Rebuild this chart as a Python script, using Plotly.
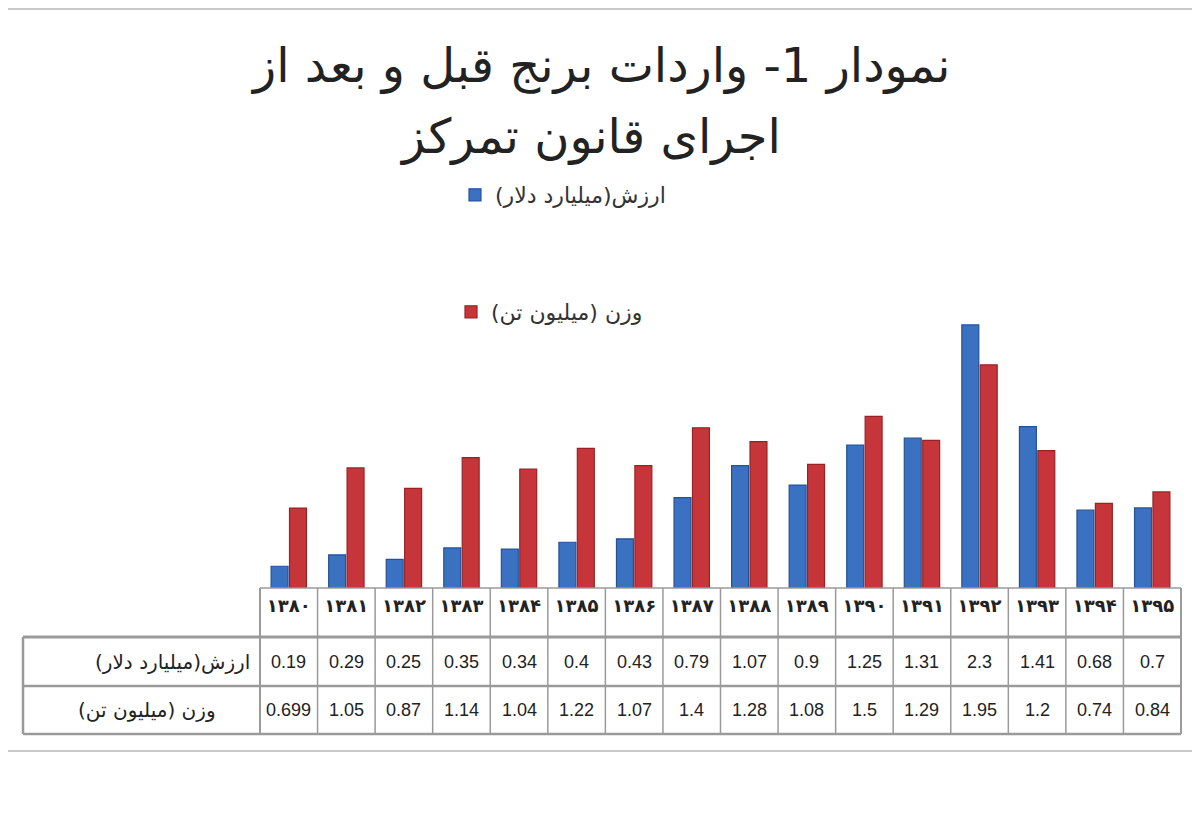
import plotly.graph_objects as go

# سال‌ها و داده‌های جدول
years = ["۱۳۸۰", "۱۳۸۱", "۱۳۸۲", "۱۳۸۳", "۱۳۸۴", "۱۳۸۵", "۱۳۸۶", "۱۳۸۷",
         "۱۳۸۸", "۱۳۸۹", "۱۳۹۰", "۱۳۹۱", "۱۳۹۲", "۱۳۹۳", "۱۳۹۴", "۱۳۹۵"]
value_bn_usd = [0.19, 0.29, 0.25, 0.35, 0.34, 0.4, 0.43, 0.79,
                1.07, 0.9, 1.25, 1.31, 2.3, 1.41, 0.68, 0.7]
weight_mn_ton = [0.699, 1.05, 0.87, 1.14, 1.04, 1.22, 1.07, 1.4,
                 1.28, 1.08, 1.5, 1.29, 1.95, 1.2, 0.74, 0.84]

name_value = "ارزش(میلیارد دلار)\u200f"
name_weight = "وزن (میلیون تن)\u200f"
title_1 = "نمودار 1- واردات برنج قبل و بعد از"
title_2 = "اجرای قانون تمرکز"

W, H = 1200, 836
OFF = 8  # حاشیه پیش‌فرض صفحه
ar_font = "DejaVu Sans"

# مختصات پیکسلی جدول
x_left, x_tab, x_right = 23, 260, 1181
y_axis, y_row1, y_row2, y_bot = 588, 637, 686, 734
y_top_px = 302


def px(x):
    return (x - OFF) / W


def py(y):
    return 1 - (y - OFF) / H


fig = go.Figure()
fig.add_trace(go.Bar(
    x=years, y=value_bn_usd, name=name_value, legend="legend",
    marker=dict(color="#3B71C1", line=dict(color="#23529A", width=1.2)),
))
fig.add_trace(go.Bar(
    x=years, y=weight_mn_ton, name=name_weight, legend="legend2",
    marker=dict(color="#C63539", line=dict(color="#9A2224", width=1.2)),
))

shapes = []
line_col = "#9a9a9a"


def hline(x0, x1, y, w=2, col=line_col):
    shapes.append(dict(type="line", xref="paper", yref="paper",
                       x0=px(x0), x1=px(x1), y0=py(y), y1=py(y),
                       line=dict(color=col, width=w)))


def vline(x, y0, y1, w=1.5):
    shapes.append(dict(type="line", xref="paper", yref="paper",
                       x0=px(x), x1=px(x), y0=py(y0), y1=py(y1),
                       line=dict(color=line_col, width=w)))


# قاب بیرونی
hline(0, 1210, 9, 2, "#c8c8c8")
hline(0, 1210, 751, 2, "#c8c8c8")

# خطوط جدول
hline(x_tab, x_right, y_axis, 1.5)
hline(x_left, x_right, y_row1, 3)
hline(x_left, x_right, y_row2, 2.5)
hline(x_left, x_right, y_bot, 2.5)
vline(x_left, y_row1, y_bot, 2.5)
col_w = (x_right - x_tab) / len(years)
for i in range(len(years) + 1):
    vline(x_tab + i * col_w, y_axis, y_bot, 2 if i in (0, len(years)) else 1.5)


def note(text, x, y, size, xanchor="center", xref="paper", bold=False, family=ar_font):
    return dict(text=text, x=x, y=y, xref=xref, yref="paper",
                xanchor=xanchor, yanchor="middle", showarrow=False,
                font=dict(family=family, size=size, color="#222",
                          weight="bold" if bold else "normal"))


annotations = [
    note(title_1, px(600), py(66), 48),
    note(title_2, px(590), py(136), 48),
    note(name_value, px(252), py((y_row1 + y_row2) / 2), 20, "right"),
    note(name_weight, px(218), py((y_row2 + y_bot) / 2), 20, "right"),
]
for yr, v, w in zip(years, value_bn_usd, weight_mn_ton):
    annotations.append(note(str(v), yr, py((y_row1 + y_row2) / 2), 18,
                            xref="x", family="Liberation Sans"))
    annotations.append(note(str(w), yr, py((y_row2 + y_bot) / 2), 18,
                            xref="x", family="Liberation Sans"))

fig.update_layout(
    width=W, height=H,
    margin=dict(l=0, r=0, t=0, b=0),
    paper_bgcolor="white", plot_bgcolor="white",
    barmode="group", bargap=0.36, bargroupgap=0.08,
    xaxis=dict(domain=[px(x_tab), px(x_right)], showgrid=False, showline=False,
               ticks="", ticklabelstandoff=5,
               tickfont=dict(family=ar_font, size=18, color="#222", weight="bold")),
    yaxis=dict(domain=[py(y_axis), py(y_top_px)], range=[0, 2.5],
               visible=False, showgrid=False),
    legend=dict(x=px(455), y=py(195), xanchor="left", yanchor="middle",
                font=dict(family=ar_font, size=22, color="#333"),
                bgcolor="rgba(0,0,0,0)"),
    legend2=dict(x=px(451), y=py(312), xanchor="left", yanchor="middle",
                 font=dict(family=ar_font, size=22, color="#333"),
                 bgcolor="rgba(0,0,0,0)"),
    shapes=shapes,
    annotations=annotations,
    showlegend=True,
)

fig.write_html("out.html")
